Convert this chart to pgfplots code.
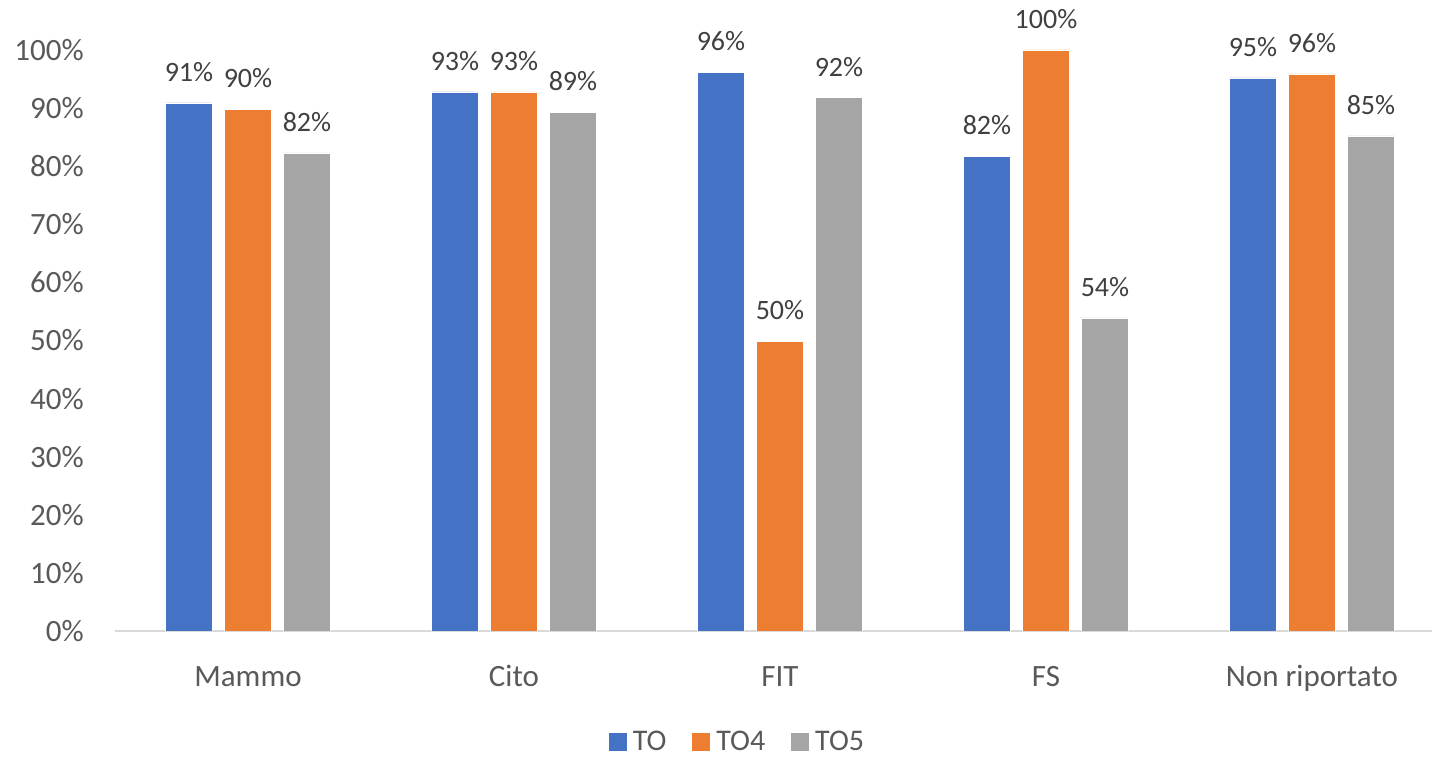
\documentclass[border=0pt]{standalone}
\usepackage{fontspec}
\setmainfont{Carlito}
\usepackage{pgfplots}
\pgfplotsset{compat=1.18}

\definecolor{serieTO}{HTML}{4472C4}
\definecolor{serieTOquattro}{HTML}{ED7D31}
\definecolor{serieTOcinque}{HTML}{A5A5A5}
\definecolor{testo}{HTML}{595959}
\definecolor{etichetta}{HTML}{404040}
\definecolor{asse}{HTML}{D9D9D9}

\begin{document}
\begin{tikzpicture}
  \clip (0,0) rectangle (1432pt,757pt);
  \path[use as bounding box] (0,0) rectangle (1432pt,757pt);
  \begin{axis}[
    at={(115pt,126pt)}, anchor=south west,
    scale only axis,
    width=1330pt, height=581pt,
    xmin=-0.5, xmax=4.5,
    ymin=0, ymax=100,
    ybar=12pt, bar width=47pt,
    axis x line=bottom, axis y line=left,
    x axis line style={-, draw=asse, line width=2pt},
    y axis line style={draw=none},
    xtick={0,1,2,3,4},
    xticklabels={Mammo, Cito, FIT, FS, Non riportato},
    xtick style={draw=none}, ytick style={draw=none},
    ytick={0,10,...,100},
    yticklabel={\pgfmathprintnumber{\tick}\%},
    /pgf/number format/assume math mode=true,
    xticklabel style={font=\fontsize{31}{36}\selectfont, color=testo, anchor=base, inner sep=0pt, yshift=-53pt},
    yticklabel style={font=\fontsize{31}{36}\selectfont, color=testo, anchor=east, inner sep=0pt, xshift=-29pt},
    nodes near coords={\pgfmathprintnumber[fixed,precision=0]{\pgfplotspointmeta}\%},
    every node near coord/.append style={font=\fontsize{28}{32}\selectfont, color=etichetta, anchor=base, inner sep=0pt, yshift=21.5pt},
    legend columns=-1,
    legend style={at={(0.4695,-0.1905)}, anchor=center, draw=none, fill=none,
      font=\fontsize{30}{34}\selectfont, text=testo,
      nodes={inner xsep=6pt, inner ysep=0pt},
      /tikz/every even column/.append style={column sep=20pt}},
    legend image code/.code={\fill[#1, draw=none] (0pt,-9pt) rectangle (18pt,9pt);},
  ]
  \addplot[fill=serieTO, draw=white, line width=0.6pt] coordinates {(0,90.9) (1,92.8) (2,96.2) (3,81.7) (4,95.2)};
  \addplot[fill=serieTOquattro, draw=white, line width=0.6pt] coordinates {(0,89.8) (1,92.8) (2,49.9) (3,100) (4,95.9)};
  \addplot[fill=serieTOcinque, draw=white, line width=0.6pt] coordinates {(0,82.3) (1,89.3) (2,91.8) (3,53.9) (4,85.2)};
  \legend{TO, TO4, TO5}
  \end{axis}
\end{tikzpicture}
\end{document}
